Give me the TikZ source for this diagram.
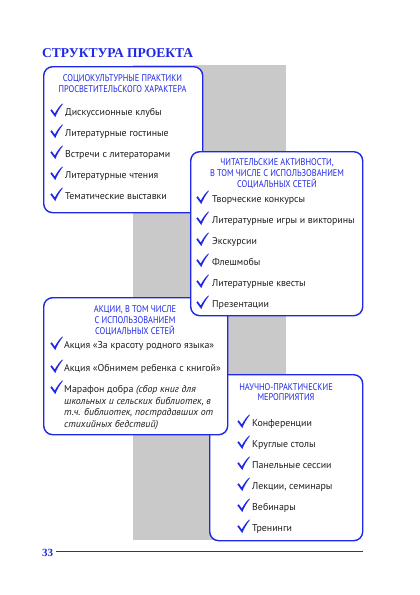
\documentclass[tikz,border=0pt]{standalone}
\usepackage{fontspec}
\setmainfont{PT Sans}
\newfontfamily\hdrfont[FakeStretch=0.86]{PT Sans}
\newfontfamily\titlefont{Liberation Serif}
\definecolor{mainblue}{RGB}{30,40,230}
\definecolor{graybg}{RGB}{201,201,201}
\definecolor{bodytext}{RGB}{30,30,30}
\tikzset{
  box/.style={draw=mainblue, line width=1.4pt, fill=white, rounded corners=9pt, anchor=north west, inner sep=0pt},
  hdr/.style={font=\hdrfont\fontsize{9.7}{10.8}\selectfont, text=mainblue, align=center, inner sep=0pt},
  item/.style={font=\fontsize{9.9}{11.5}\selectfont, text=bodytext, anchor=base west, inner sep=0pt},
  chkmark/.pic={\fill[mainblue] (-4.6,-6.0) -- (-3.3,-7.2) -- (-0.2,-3.0) .. controls (2,-7) and (4.6,-10.8) .. (7.5,-13) -- (7.9,-12.6) .. controls (4.8,-8.6) and (2.2,-4.4) .. (0.3,0.6) -- cycle;}
}
\begin{document}
\begin{tikzpicture}[x=1pt,y=-1pt]
\useasboundingbox (0,0) rectangle (420,595);
\fill[white] (0,0) rectangle (420,595);
\fill[graybg] (133,65) rectangle (286,540);

\node[anchor=base west, inner sep=0pt, text=mainblue, font=\titlefont\bfseries\fontsize{13.5}{15}\selectfont] (title) at (42,57.7) {СТРУКТУРА ПРОЕКТА};

% box 4
\node[box, minimum width=153pt, minimum height=166pt] (b4) at (209,374) {};
\node[hdr] (h4) at (286,392) {НАУЧНО-ПРАКТИЧЕСКИЕ\\МЕРОПРИЯТИЯ};
\foreach \t [count=\i from 0] in {Конференции, Круглые столы, Панельные сессии, {Лекции, семинары}, Вебинары, Тренинги}{
  \pic at (242,{427.5+21*\i}) {chkmark};
  \node[item] (i4-\i) at (252,{426.5+21*\i}) {\t};
}

% box 3
\node[box, minimum width=184pt, minimum height=137pt] (b3) at (43,297) {};
\node[hdr] (h3) at (135,320.5) {АКЦИИ, В ТОМ ЧИСЛЕ\\С ИСПОЛЬЗОВАНИЕМ\\СОЦИАЛЬНЫХ СЕТЕЙ};
\pic at (55,349.5) {chkmark};
\node[item] (i3-0) at (64,348.5) {Акция «За красоту родного языка»};
\pic at (55,372.5) {chkmark};
\node[item] (i3-1) at (64,371.5) {Акция «Обнимем ребенка с книгой»};
\pic at (55,393.5) {chkmark};
\node[item, align=left] (i3-2) at (64,427) {Марафон добра \textit{(сбор книг для}\\\textit{школьных и сельских библиотек, в}\\\textit{т.ч. библиотек, пострадавших от}\\\textit{стихийных бедствий)}};

% box 1
\node[box, minimum width=159pt, minimum height=146pt] (b1) at (43,66) {};
\node[hdr] (h1) at (122.5,83.5) {СОЦИОКУЛЬТУРНЫЕ ПРАКТИКИ\\ПРОСВЕТИТЕЛЬСКОГО ХАРАКТЕРА};
\foreach \t [count=\i from 0] in {Дискуссионные клубы, Литературные гостиные, Встречи с литераторами, Литературные чтения, Тематические выставки}{
  \pic at (55,{116.5+21*\i}) {chkmark};
  \node[item] (i1-\i) at (65,{115.5+21*\i}) {\t};
}

% box 2
\node[box, minimum width=172pt, minimum height=164pt] (b2) at (190,151) {};
\node[hdr] (h2) at (277,173.5) {ЧИТАТЕЛЬСКИЕ АКТИВНОСТИ,\\В ТОМ ЧИСЛЕ С ИСПОЛЬЗОВАНИЕМ\\СОЦИАЛЬНЫХ СЕТЕЙ};
\foreach \t [count=\i from 0] in {Творческие конкурсы, Литературные игры и викторины, Экскурсии, Флешмобы, Литературные квесты, Презентации}{
  \pic at (201,{203.5+21*\i}) {chkmark};
  \node[item] (i2-\i) at (212,{202.5+21*\i}) {\t};
}

% footer
\node[anchor=base west, inner sep=0pt, text=mainblue, font=\titlefont\bfseries\fontsize{11}{12}\selectfont] (pnum) at (42,556) {33};
\coordinate (lineend) at (363,551);
\draw[mainblue, line width=0.9pt] (pnum.east |- lineend) ++(3,0) coordinate (linestart) -- (lineend);
\end{tikzpicture}
\end{document}
